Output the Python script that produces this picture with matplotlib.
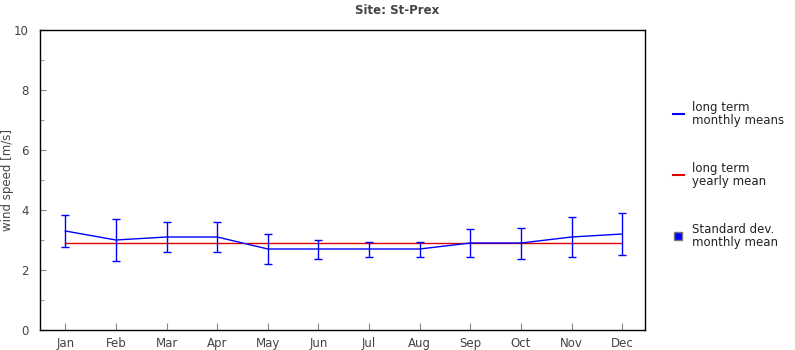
import matplotlib
matplotlib.use("Agg")
import matplotlib.pyplot as plt
from matplotlib.lines import Line2D
import numpy as np

months = ["Jan", "Feb", "Mar", "Apr", "May", "Jun", "Jul", "Aug", "Sep", "Oct", "Nov", "Dec"]
monthly_mean = [3.3, 3.0, 3.1, 3.1, 2.7, 2.7, 2.7, 2.7, 2.9, 2.9, 3.1, 3.2]
err_upper = [3.82, 3.69, 3.59, 3.59, 3.19, 3.01, 2.94, 2.94, 3.36, 3.39, 3.76, 3.89]
err_lower = [2.76, 2.29, 2.59, 2.59, 2.19, 2.36, 2.42, 2.42, 2.42, 2.38, 2.42, 2.49]
yearly_mean = 2.9
title = "Site: St-Prex"
ylabel = "wind speed [m/s]"
legend_labels = ["long term\nmonthly means", "long term\nyearly mean", "Standard dev.\nmonthly mean"]

plt.rcParams['font.family'] = ['DejaVu Sans']
fig = plt.figure(figsize=(7.95, 3.5), dpi=100)
ax = fig.add_axes([40/795, 20/350, 605/795, 300/350])

x = np.arange(1, len(months) + 1)
mm = np.array(monthly_mean)
lo = mm - np.array(err_lower)
hi = np.array(err_upper) - mm

ax.plot(x, [yearly_mean] * len(x), color="#e00000", lw=1.0, zorder=2)
ax.plot(x, mm, color="#0000ff", lw=1.0, zorder=3)
ax.errorbar(x, mm, yerr=[lo, hi], fmt="none", ecolor="#0000ff", elinewidth=1.0,
            capsize=3, capthick=1.0, zorder=4)

ax.set_xlim(0.5, 12.45)
ax.set_ylim(0, 10)
ax.set_xticks(x)
ax.set_xticklabels(months)
ax.set_yticks(np.arange(0, 11, 2))
ax.set_yticks(np.arange(1, 10, 2), minor=True)
ax.tick_params(axis="both", which="both", direction="in", color="#888888",
               labelcolor="#444444", labelsize=8.5)
ax.tick_params(axis="y", which="major", length=4, pad=8)
ax.tick_params(axis="y", which="minor", length=3)
ax.tick_params(axis="x", which="major", length=5, pad=5)
for s in ax.spines.values():
    s.set_linewidth(1.0)
    s.set_color("black")

fig.text(8/795, 1 - 180/350, ylabel, rotation=90, ha="center", va="center",
         fontsize=8.5, color="#444444")

fig.text(397/795, 1 - 11/350, title, ha="center", va="center", fontsize=8.5,
         fontweight="bold", color="#444444")

# legend on the right
ys = [114, 175, 236]
kinds = ["line", "line", "square"]
colors = ["#0000ff", "#e00000", "#0000ff"]
for y, lab, kind, c in zip(ys, legend_labels, kinds, colors):
    fy = 1 - y / 350
    if kind == "line":
        fig.add_artist(Line2D([673/795, 684/795], [fy, fy], color=c,
                              lw=1.5, transform=fig.transFigure))
    else:
        fig.add_artist(Line2D([678/795], [fy], lw=0, marker="s", markersize=6,
                              markerfacecolor=c, markeredgecolor="#777777",
                              transform=fig.transFigure))
    fig.text(692/795, fy, lab, ha="left", va="center", fontsize=8.5,
             color="#222222", linespacing=0.95)

fig.savefig("out.png", dpi=100)
